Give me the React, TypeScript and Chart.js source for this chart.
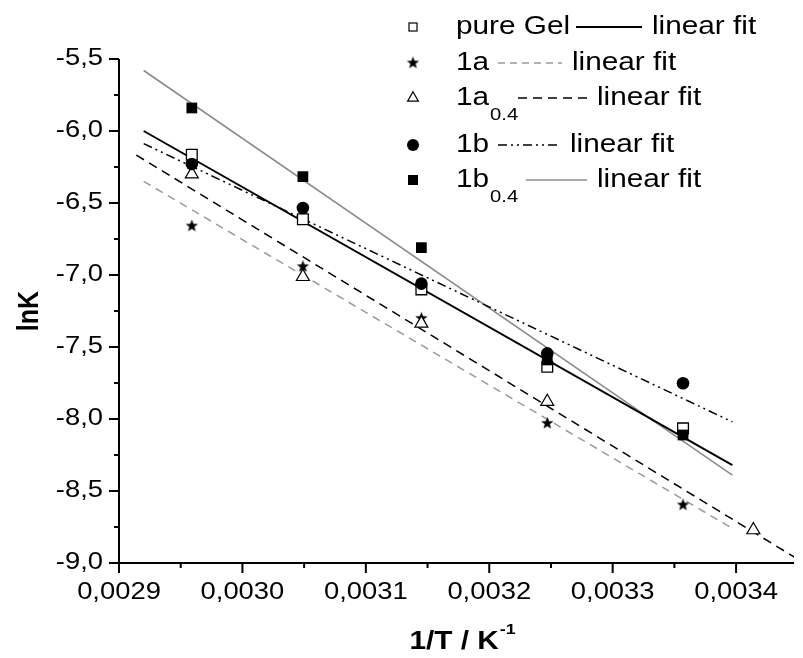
import React, { useEffect, useRef } from 'react';
import { Chart, registerables } from 'chart.js';

Chart.register(...registerables);

const FONT = '"Liberation Sans", Arial, sans-serif';
const SX = 1.19; // horizontal text stretch seen in the reference

// ---- data ----
const xFive = [0.002959, 0.003049, 0.003145, 0.003247, 0.003357];
const x1a04 = [0.002959, 0.003049, 0.003145, 0.003247, 0.003414];
const lnKPureGel = [-6.165, -6.613, -7.1, -7.637, -8.065];
const lnK1a = [-6.66, -6.942, -7.301, -8.03, -8.597];
const lnK1a04 = [-6.3, -7.012, -7.336, -7.88, -8.771];
const lnK1b = [-6.229, -6.535, -7.06, -7.544, -7.752];
const lnK1b04 = [-5.84, -6.317, -6.81, -7.59, -8.111];

const fitX = [0.00292, 0.003397];
const fitX1a04 = [0.002914, 0.00346];
const fitPureGel = [-6.0, -8.32];
const fit1a = [-6.35, -8.76];
const fit1a04 = [-6.167, -9.026];
const fit1b = [-6.088, -8.02];
const fit1b04 = [-5.58, -8.39];

const xTicks = [0.0029, 0.003, 0.0031, 0.0032, 0.0033, 0.0034];
const yTicks = [-9.0, -8.5, -8.0, -7.5, -7.0, -6.5, -6.0, -5.5];

const legendNames = ['pure Gel', '1a', '1a', '1b', '1b'];
const legendSubs = ['', '', '0.4', '', '0.4'];
const legendFitText = 'linear fit';

const GRAY = '#8c8c8c';
const GRAY_D = '#9a9a9a';

function makeStar(outer: number, inner: number): HTMLCanvasElement {
  const c = document.createElement('canvas');
  const s = Math.ceil(outer * 2 + 2);
  c.width = s;
  c.height = s;
  const g = c.getContext('2d')!;
  g.fillStyle = '#000';
  g.beginPath();
  for (let i = 0; i < 10; i++) {
    const r = i % 2 === 0 ? outer : inner;
    const a = -Math.PI / 2 + (i * Math.PI) / 5;
    const px = s / 2 + r * Math.cos(a);
    const py = s / 2 + r * Math.sin(a);
    if (i === 0) g.moveTo(px, py);
    else g.lineTo(px, py);
  }
  g.closePath();
  g.fill();
  return c;
}

function sText(ctx: CanvasRenderingContext2D, text: string, x: number, y: number, align: CanvasTextAlign) {
  ctx.save();
  ctx.translate(x, y);
  ctx.scale(SX, 1);
  ctx.textAlign = align;
  ctx.fillText(text, 0, 0);
  ctx.restore();
}

function sWidth(ctx: CanvasRenderingContext2D, text: string) {
  return ctx.measureText(text).width * SX;
}

const pts = (xs: number[], ys: number[]) => xs.map((x, i) => ({ x, y: ys[i] }));

export default function App() {
  const ref = useRef<HTMLCanvasElement>(null);

  useEffect(() => {
    const star = makeStar(6.5, 2.7);
    const legendStar = makeStar(6.5, 2.7);

    const axesPlugin = {
      id: 'axesCustom',
      afterDraw(chart: any) {
        const ctx: CanvasRenderingContext2D = chart.ctx;
        const { left, right, top, bottom } = chart.chartArea;
        const xs = chart.scales.x;
        const ys = chart.scales.y;
        ctx.save();
        ctx.strokeStyle = '#000';
        ctx.lineWidth = 2;
        ctx.lineCap = 'butt';
        ctx.beginPath();
        ctx.moveTo(left, top);
        ctx.lineTo(left, bottom + 1);
        ctx.moveTo(left - 1, bottom);
        ctx.lineTo(right, bottom);
        ctx.stroke();
        // ticks
        ctx.beginPath();
        for (let i = 0; i < yTicks.length; i++) {
          const py = ys.getPixelForValue(yTicks[i]);
          ctx.moveTo(left, py);
          ctx.lineTo(left - 10, py);
          if (i < yTicks.length - 1) {
            const pm = ys.getPixelForValue((yTicks[i] + yTicks[i + 1]) / 2);
            ctx.moveTo(left, pm);
            ctx.lineTo(left - 5, pm);
          }
        }
        for (let i = 0; i < xTicks.length; i++) {
          const px = xs.getPixelForValue(xTicks[i]);
          ctx.moveTo(px, bottom);
          ctx.lineTo(px, bottom + 10);
          const pm = xs.getPixelForValue(xTicks[i] + 0.00005);
          if (pm <= right) {
            ctx.moveTo(pm, bottom);
            ctx.lineTo(pm, bottom + 5);
          }
        }
        ctx.stroke();

        // tick labels
        ctx.fillStyle = '#000';
        ctx.textBaseline = 'middle';
        ctx.font = `23px ${FONT}`;
        xs.ticks.forEach((t: any) => {
          const px = xs.getPixelForValue(t.value);
          sText(ctx, Number(t.value).toFixed(4).replace('.', ','), px, bottom + 30, 'center');
        });
        ys.ticks.forEach((t: any) => {
          const py = ys.getPixelForValue(t.value);
          sText(ctx, Number(t.value).toFixed(1).replace('.', ','), left - 16, py, 'right');
        });

        // axis titles
        ctx.font = `bold 25px ${FONT}`;
        ctx.save();
        ctx.translate(30, (top + bottom) / 2);
        ctx.scale(SX, 1);
        ctx.rotate(-Math.PI / 2);
        ctx.textAlign = 'center';
        ctx.fillText('lnK', 0, 0);
        ctx.restore();

        const main = '1/T / K';
        const sup = '-1';
        ctx.font = `bold 25px ${FONT}`;
        const wMain = sWidth(ctx, main);
        ctx.font = `bold 15px ${FONT}`;
        const wSup = sWidth(ctx, sup);
        const cx = 462;
        const startX = cx - (wMain + wSup) / 2;
        ctx.font = `bold 25px ${FONT}`;
        sText(ctx, main, startX, 642, 'left');
        ctx.font = `bold 15px ${FONT}`;
        sText(ctx, sup, startX + wMain + 1, 630, 'left');

        // legend
        const mx = 413;
        const tx = 456;
        const rowsY = [27, 63, 98, 145, 180];
        const lineStart = [576, 498, 518, 498, 526];
        const lineEnd = [642, 562, 587, 560, 587];
        const lineColor = ['#000', GRAY_D, '#000', '#000', GRAY];
        const lineDash = [[], [7, 5], [9, 6], [9, 4, 2, 4, 2, 4], []];
        const lineW = [2, 1.5, 1.5, 1.5, 1.6];
        for (let i = 0; i < 5; i++) {
          const y = rowsY[i];
          ctx.save();
          ctx.lineWidth = 1.2;
          ctx.strokeStyle = '#000';
          ctx.fillStyle = '#000';
          if (i === 0) {
            ctx.fillStyle = '#fff';
            ctx.fillRect(mx - 4, y - 4, 8, 8);
            ctx.strokeRect(mx - 4, y - 4, 8, 8);
          } else if (i === 1) {
            ctx.drawImage(legendStar, mx - legendStar.width / 2, y - legendStar.height / 2);
          } else if (i === 2) {
            const r = 6.2;
            ctx.fillStyle = '#fff';
            ctx.beginPath();
            ctx.moveTo(mx, y - r);
            ctx.lineTo(mx + r * 0.866, y + r * 0.5);
            ctx.lineTo(mx - r * 0.866, y + r * 0.5);
            ctx.closePath();
            ctx.fill();
            ctx.stroke();
          } else if (i === 3) {
            ctx.beginPath();
            ctx.arc(mx, y, 6, 0, Math.PI * 2);
            ctx.fill();
          } else {
            ctx.fillRect(mx - 5, y - 5, 10, 10);
          }
          ctx.restore();

          ctx.fillStyle = '#000';
          ctx.textBaseline = 'middle';
          ctx.font = `25px ${FONT}`;
          sText(ctx, legendNames[i], tx, y, 'left');
          const endX = tx + sWidth(ctx, legendNames[i]);
          if (legendSubs[i]) {
            ctx.font = `17px ${FONT}`;
            sText(ctx, legendSubs[i], endX + 1, y + 17, 'left');
          }
          ctx.save();
          ctx.strokeStyle = lineColor[i];
          ctx.lineWidth = lineW[i];
          ctx.setLineDash(lineDash[i]);
          ctx.beginPath();
          ctx.moveTo(lineStart[i], y);
          ctx.lineTo(lineEnd[i], y);
          ctx.stroke();
          ctx.restore();
          ctx.font = `25px ${FONT}`;
          sText(ctx, legendFitText, lineEnd[i] + 10, y, 'left');
        }
        ctx.restore();
      },
    };

    const lineDs = (label: string, xs: number[], ys: number[], color: string, dash: number[], w: number) => ({
      label,
      data: pts(xs, ys),
      showLine: true,
      pointRadius: 0,
      pointHoverRadius: 0,
      borderColor: color,
      borderWidth: w,
      borderDash: dash,
      fill: false,
      order: 10,
    });

    const chart = new Chart(ref.current!, {
      type: 'scatter',
      data: {
        datasets: [
          {
            label: 'pure Gel',
            data: pts(xFive, lnKPureGel),
            pointStyle: 'rect',
            pointRadius: 7.6,
            pointBackgroundColor: '#fff',
            pointBorderColor: '#000',
            pointBorderWidth: 1.3,
            order: 5,
          },
          {
            label: '1a',
            data: pts(xFive, lnK1a),
            pointStyle: star as any,
            pointRadius: 7,
            order: 4,
          },
          {
            label: '1a0.4',
            data: pts(x1a04, lnK1a04),
            pointStyle: 'triangle',
            pointRadius: 7.5,
            pointBackgroundColor: '#fff',
            pointBorderColor: '#000',
            pointBorderWidth: 1.2,
            order: 3,
          },
          {
            label: '1b',
            data: pts(xFive, lnK1b),
            pointStyle: 'circle',
            pointRadius: 6.3,
            pointBackgroundColor: '#000',
            pointBorderColor: '#000',
            pointBorderWidth: 0,
            order: 2,
          },
          {
            label: '1b0.4',
            data: pts(xFive, lnK1b04),
            pointStyle: 'rect',
            pointRadius: 7.6,
            pointBackgroundColor: '#000',
            pointBorderColor: '#000',
            pointBorderWidth: 0,
            order: 1,
          },
          lineDs('fit pure Gel', fitX, fitPureGel, '#000', [], 2),
          lineDs('fit 1a', fitX, fit1a, GRAY_D, [8, 6], 1.5),
          lineDs('fit 1a0.4', fitX1a04, fit1a04, '#000', [9, 6], 1.5),
          lineDs('fit 1b', fitX, fit1b, '#000', [9, 4, 2, 4, 2, 4], 1.5),
          lineDs('fit 1b0.4', fitX, fit1b04, GRAY, [], 1.6),
        ] as any,
      },
      options: {
        responsive: false,
        animation: false,
        events: [],
        layout: { padding: { top: 59, right: 0, left: 0, bottom: 0 } },
        plugins: {
          legend: { display: false },
          tooltip: { enabled: false },
          title: { display: false },
        },
        scales: {
          x: {
            type: 'linear',
            min: 0.0029,
            max: 0.003447,
            grid: { display: false, drawTicks: false },
            border: { display: false },
            afterBuildTicks: (scale: any) => {
              scale.ticks = xTicks.map((v) => ({ value: v }));
            },
            afterFit: (scale: any) => {
              scale.height = 95;
            },
            ticks: { display: false },
          },
          y: {
            type: 'linear',
            min: -9,
            max: -5.5,
            grid: { display: false, drawTicks: false },
            border: { display: false },
            afterBuildTicks: (scale: any) => {
              scale.ticks = yTicks.map((v) => ({ value: v }));
            },
            afterFit: (scale: any) => {
              scale.width = 119;
            },
            ticks: { display: false },
          },
        },
      },
      plugins: [axesPlugin],
    });

    return () => chart.destroy();
  }, []);

  return (
    <div style={{ position: 'fixed', left: 0, top: 0, width: 803, height: 658, background: '#fff' }}>
      <canvas ref={ref} width={803} height={658} style={{ display: 'block' }} />
    </div>
  );
}
